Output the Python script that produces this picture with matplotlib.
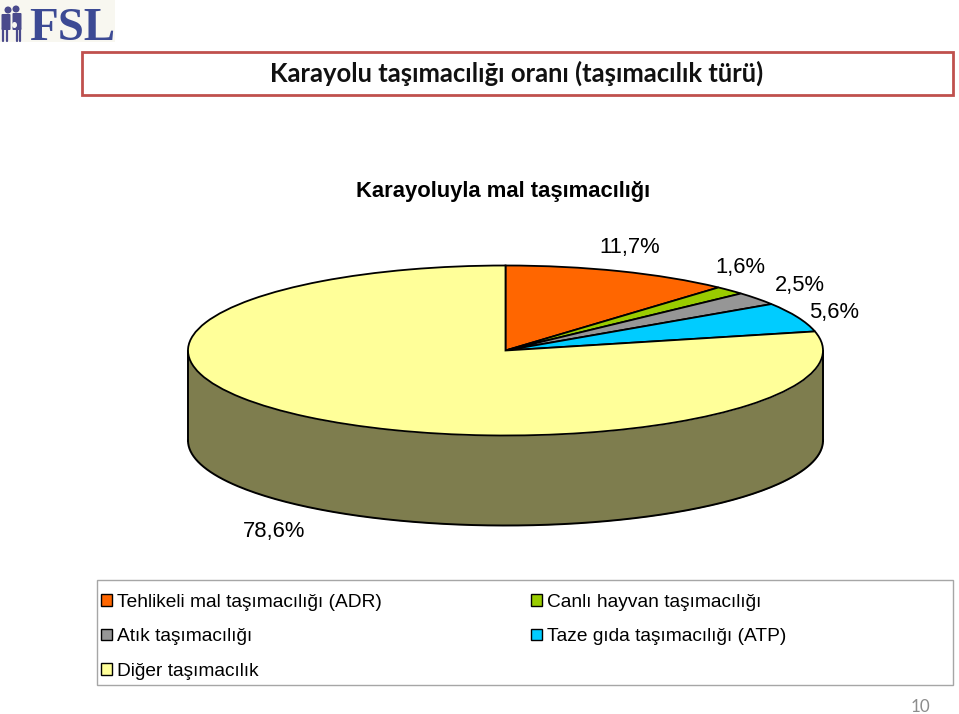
import numpy as np
import matplotlib
matplotlib.use('Agg')
import matplotlib.pyplot as plt
from matplotlib.patches import Rectangle, Ellipse, FancyBboxPatch

categories = ['Tehlikeli mal taşımacılığı (ADR)', 'Canlı hayvan taşımacılığı', 'Atık taşımacılığı',
              'Taze gıda taşımacılığı (ATP)', 'Diğer taşımacılık']
values = [11.7, 1.6, 2.5, 5.6, 78.6]
colors = ['#FF6600', '#99CC00', '#969696', '#00CCFF', '#FFFF99']
title = 'Karayolu taşımacılığı oranı (taşımacılık türü)'
chart_title = 'Karayoluyla mal taşımacılığı'

W, H = 959, 714
fig = plt.figure(figsize=(W / 100, H / 100), dpi=100)
px = 0.72  # pixel -> point

# overlay in pixel coords for frames and text
bg = fig.add_axes([0, 0, 1, 1])
bg.set_xlim(0, W)
bg.set_ylim(H, 0)
bg.axis('off')

# pie axes, x -1..1 and y -1..1 are the top ellipse
left, right, top, bottom = 188, 823, 265.5, 435.5
ry = (bottom - top) / 2
depth = 90 / ry
ax_bottom = bottom + 90
ax = fig.add_axes([left / W, 1 - ax_bottom / H, (right - left) / W, (ax_bottom - top) / H])
t = np.linspace(np.pi, 2 * np.pi, 200)
xs = np.cos(t)
ys = np.sin(t)
ax.fill_between(xs, ys - depth, ys, color='#7E7D4E', lw=0, zorder=1)
ax.plot(xs, ys - depth, color='k', lw=1.4, zorder=2, clip_on=False)
ax.plot([-1, -1], [0, -depth], color='k', lw=1.4, zorder=2, clip_on=False)
ax.plot([1, 1], [0, -depth], color='k', lw=1.4, zorder=2, clip_on=False)
wedges, _ = ax.pie(values, colors=colors, startangle=90, counterclock=False,
                   wedgeprops={'edgecolor': 'k', 'linewidth': 1.3, 'zorder': 3, 'clip_on': False})
ax.set_aspect('auto')
ax.set_xlim(-1, 1)
ax.set_ylim(-1 - depth, 1)
ax.axis('off')

# logo
bg.add_patch(Rectangle((0, 0), 115, 42, fc='#F8F7F0', ec='none'))
bg.text(29, 40, 'FSL', family='Liberation Serif', weight='bold', fontsize=47 * px, color='#3C4A94',
        ha='left', va='baseline')
for cx, cy, w, h in [(6, 15, 7, 14), (17, 14, 7, 15)]:
    bg.add_patch(FancyBboxPatch((cx - w / 2, cy), w, h, boxstyle='round,pad=1', fc='#4A4A8C', ec='none'))
for x0, x1, y0, y1 in [(3, 3, 28, 41), (7, 7, 28, 41), (17, 17, 28, 41), (20, 20, 28, 41)]:
    bg.plot([x0, x1], [y0, y1], color='#4A4A8C', lw=1.6, solid_capstyle='round')
for cx, cy in [(8, 10), (16, 9)]:
    bg.add_patch(Ellipse((cx, cy), 7, 7, fc='#4A4A8C', ec='none'))
bg.add_patch(Ellipse((14.5, 25), 5, 6, fc='#F8F7F0', ec='none'))

# title box
bg.add_patch(Rectangle((81.5, 52), 871, 43, fc='white', ec='#C0504D', lw=2))
bg.text(517, 73.5, title, family='Lato', weight='bold', fontsize=25.6 * px, color='#111111',
        ha='center', va='center')
bg.text(503.5, 192, chart_title, family='Liberation Sans', weight='bold', fontsize=22 * px, color='k',
        ha='center', va='center')

# slice labels
label_pos = [(630, 248), (740, 267.5), (800, 285.5), (834, 312.5), (274, 532)]
for v, (lx, ly) in zip(values, label_pos):
    bg.text(lx, ly, f'{v:.1f}%'.replace('.', ','), family='Liberation Sans', fontsize=22 * px,
            color='k', ha='center', va='center')

# legend
bg.add_patch(Rectangle((97, 580), 856, 105, fc='white', ec='#A6A6A6', lw=1))
order = [0, 2, 4, 1, 3]
leg = bg.legend([wedges[i] for i in order], [categories[i] for i in order], ncols=2,
                loc='upper left', bbox_to_anchor=(101 / W, 1 - 594 / H), bbox_transform=fig.transFigure,
                frameon=False, prop={'family': 'Liberation Sans', 'size': 19.2 * px},
                handlelength=0.55, handleheight=0.55, handletextpad=0.28, labelspacing=0.9,
                columnspacing=7.78, borderpad=0, borderaxespad=0)
for h in leg.legend_handles:
    h.set_edgecolor('k')
    h.set_linewidth(1)

bg.text(920, 707, '10', family='Lato', fontsize=17 * px, color='#8C8C8C', ha='center', va='center')

fig.savefig('out.png', dpi=100)
